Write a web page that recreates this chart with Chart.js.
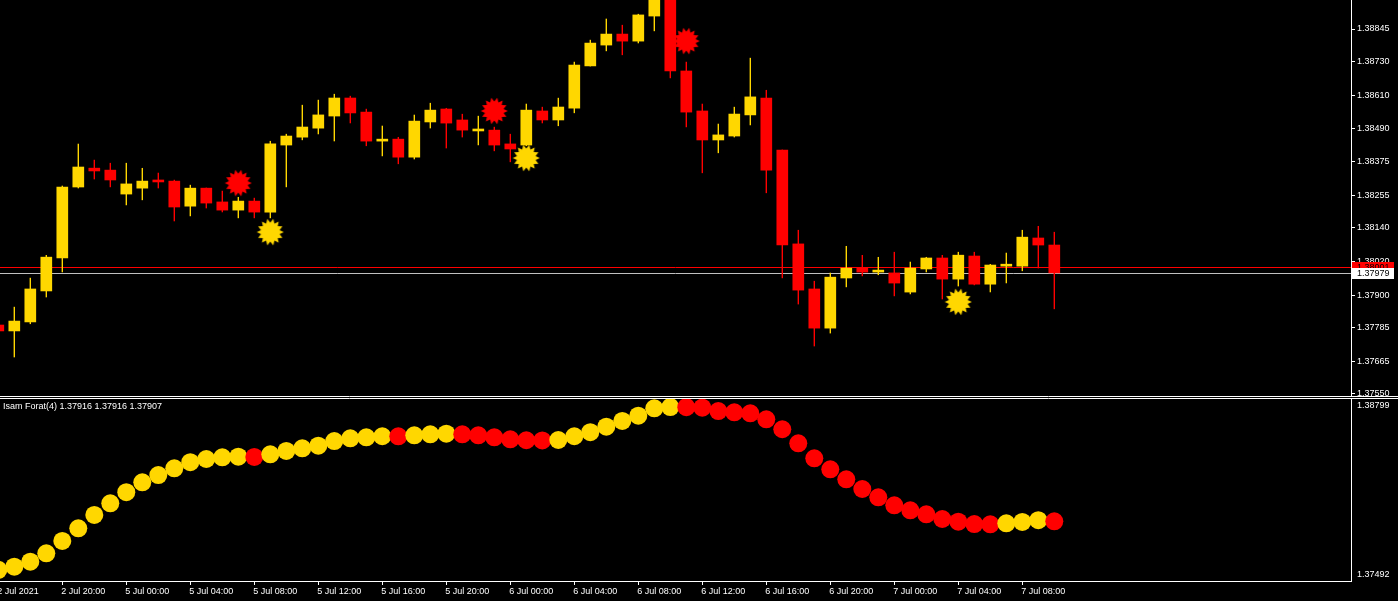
<!DOCTYPE html>
<html>
<head>
<meta charset="utf-8">
<script src="https://cdn.jsdelivr.net/npm/chart.js@4.4.1/dist/chart.umd.min.js"></script>
<style>
  html, body { margin: 0; padding: 0; background: #000; overflow: hidden; }
  #top { position: absolute; left: 0; top: 0; width: 1398px; height: 396px; }
  #bottom { position: absolute; left: 0; top: 396px; width: 1398px; height: 205px; }
</style>
</head>
<body>
<div id="top"><canvas id="price"></canvas></div>
<div id="bottom"><canvas id="ind"></canvas></div>
<script>
// H1 candles, 2 Jul 16:00 -> 7 Jul 10:00
const opens = [1.37794,1.37773,1.37805,1.37915,1.38032,1.38284,1.38351,1.38344,1.38259,1.38280,
  1.38309,1.38305,1.38216,1.38280,1.38231,1.38202,1.38234,1.38195,1.38433,1.38461,
  1.38493,1.38536,1.38600,1.38550,1.38447,1.38454,1.38390,1.38515,1.38561,1.38522,
  1.38483,1.38486,1.38437,1.38433,1.38554,1.38522,1.38564,1.38714,1.38788,1.38827,
  1.38802,1.38891,1.38959,1.38696,1.38554,1.38451,1.38465,1.38540,1.38600,1.38415,
  1.38082,1.37922,1.37783,1.37961,1.37996,1.37982,1.37979,1.37911,1.37993,1.38032,
  1.37957,1.38039,1.37939,1.38003,1.38003,1.38103,1.38078];
const highs = [1.37805,1.37858,1.37961,1.38042,1.38288,1.38437,1.38380,1.38369,1.38369,1.38351,
  1.38334,1.38309,1.38291,1.38281,1.38270,1.38248,1.38245,1.38447,1.38472,1.38575,
  1.38593,1.38614,1.38607,1.38561,1.38501,1.38461,1.38540,1.38582,1.38564,1.38543,
  1.38536,1.38497,1.38472,1.38579,1.38568,1.38600,1.38728,1.38806,1.38881,1.38859,
  1.38898,1.38984,1.38976,1.38728,1.38579,1.38508,1.38568,1.38742,1.38628,1.38416,
  1.38131,1.37950,1.37979,1.38074,1.38042,1.38035,1.38053,1.38018,1.38035,1.38042,
  1.38053,1.38053,1.38010,1.38050,1.38131,1.38145,1.38124];
const lows = [1.37762,1.37680,1.37798,1.37893,1.37982,1.38280,1.38312,1.38284,1.38220,1.38238,
  1.38280,1.38163,1.38181,1.38209,1.38195,1.38174,1.38174,1.38174,1.38284,1.38451,
  1.38472,1.38447,1.38511,1.38430,1.38394,1.38366,1.38383,1.38493,1.38422,1.38461,
  1.38433,1.38412,1.38373,1.38430,1.38511,1.38501,1.38547,1.38713,1.38767,1.38753,
  1.38795,1.38838,1.38671,1.38497,1.38334,1.38405,1.38461,1.38504,1.38263,1.37961,
  1.37868,1.37719,1.37765,1.37929,1.37968,1.37972,1.37897,1.37904,1.37982,1.37886,
  1.37932,1.37936,1.37911,1.37943,1.37986,1.37996,1.37851];
const closes = [1.37773,1.37808,1.37922,1.38035,1.38284,1.38355,1.38341,1.38309,1.38295,1.38305,
  1.38302,1.38213,1.38280,1.38227,1.38202,1.38234,1.38195,1.38437,1.38465,1.38497,
  1.38540,1.38600,1.38547,1.38447,1.38454,1.38390,1.38518,1.38557,1.38511,1.38486,
  1.38490,1.38433,1.38419,1.38557,1.38522,1.38568,1.38717,1.38795,1.38827,1.38802,
  1.38895,1.38962,1.38696,1.38550,1.38451,1.38469,1.38543,1.38604,1.38344,1.38078,
  1.37918,1.37783,1.37964,1.37996,1.37982,1.37989,1.37943,1.37996,1.38032,1.37957,
  1.38042,1.37939,1.38007,1.38010,1.38106,1.38078,1.37979];

// signal arrows (bar index, price)
const sellIdx = [15, 31, 43];
const sellPrice = [1.38298, 1.38554, 1.38802];
const buyIdx = [17, 33, 60];
const buyPrice = [1.38124, 1.38387, 1.37876];

// Isam Forat(4) line, 1 = up (yellow), 0 = down (red)
const indValues = [1.37531,1.37556,1.37595,1.37660,1.37755,1.37853,1.37956,1.38046,1.38132,1.38209,
  1.38265,1.38317,1.38364,1.38389,1.38402,1.38407,1.38405,1.38425,1.38451,1.38472,
  1.38492,1.38528,1.38549,1.38557,1.38565,1.38564,1.38572,1.38580,1.38585,1.38580,
  1.38572,1.38557,1.38541,1.38534,1.38533,1.38536,1.38565,1.38596,1.38639,1.38683,
  1.38724,1.38781,1.38791,1.38790,1.38786,1.38760,1.38750,1.38742,1.38696,1.38619,
  1.38510,1.38394,1.38309,1.38232,1.38157,1.38093,1.38031,1.37992,1.37961,1.37925,
  1.37904,1.37886,1.37884,1.37892,1.37902,1.37916,1.37907];
const indTrend = [1,1,1,1,1,1,1,1,1,1, 1,1,1,1,1,1,0,1,1,1, 1,1,1,1,1,0,1,1,1,0,
  0,0,0,0,0,1,1,1,1,1, 1,1,1,0,0,0,0,0,0,0, 0,0,0,0,0,0,0,0,0,0, 0,0,0,1,1,1,0];
const indLegend = [1.37916, 1.37916, 1.37907];

const priceTicks = [1.38845,1.38730,1.38610,1.38490,1.38375,1.38255,1.38140,1.38020,1.37900,1.37785,1.37665,1.37550];
const indTicks = [1.38799, 1.37492];
const timeTickIdx = [0,4,8,12,16,20,24,28,32,36,40,44,48,52,56,60,64];
const timeLabels = ['2 Jul 2021','2 Jul 20:00','5 Jul 00:00','5 Jul 04:00','5 Jul 08:00','5 Jul 12:00',
  '5 Jul 16:00','5 Jul 20:00','6 Jul 00:00','6 Jul 04:00','6 Jul 08:00','6 Jul 12:00','6 Jul 16:00',
  '6 Jul 20:00','7 Jul 00:00','7 Jul 04:00','7 Jul 08:00'];
const askPrice = 1.38001;
const bidPrice = 1.37979;

const UP = '#FFD700', DOWN = '#FF0000';
Chart.defaults.font.family = 'Liberation Sans';
Chart.defaults.font.size = 9;
Chart.defaults.color = '#fff';

const candleColors = opens.map((o, i) => closes[i] >= o ? UP : DOWN);

function starburst(color) {
  const c = document.createElement('canvas');
  c.width = c.height = 28;
  const g = c.getContext('2d');
  g.fillStyle = color;
  g.beginPath();
  const n = 14;
  for (let i = 0; i < n * 2; i++) {
    const r = i % 2 ? 9.5 : 13.5;
    const a = Math.PI * i / n;
    g.lineTo(14 + r * Math.cos(a), 14 + r * Math.sin(a));
  }
  g.closePath();
  g.fill();
  return c;
}

const xRange = { min: 0.106, max: 0.106 + 1351 / 16 };

const priceLines = {
  id: 'priceLines',
  beforeDatasetsDraw(chart) {
    const { ctx, chartArea, scales } = chart;
    ctx.save();
    ctx.lineWidth = 1;
    [[askPrice, '#FF0000'], [bidPrice, '#C0C0C0']].forEach(([v, c]) => {
      const y = Math.round(scales.y.getPixelForValue(v)) + 0.5;
      ctx.strokeStyle = c;
      ctx.beginPath();
      ctx.moveTo(chartArea.left, y);
      ctx.lineTo(chartArea.right, y);
      ctx.stroke();
    });
    ctx.restore();
  },
  afterDraw(chart) {
    const { ctx, scales } = chart;
    ctx.save();
    ctx.font = '9px "Liberation Sans"';
    ctx.textBaseline = 'middle';
    [[askPrice, '#FF0000', '#000'], [bidPrice, '#FFFFFF', '#000']].forEach(([v, bg, fg]) => {
      const y = Math.round(scales.y.getPixelForValue(v));
      ctx.fillStyle = bg;
      ctx.fillRect(1352, y - 5, 42, 11);
      ctx.fillStyle = fg;
      ctx.fillText(v.toFixed(5), 1357, y + 0.5);
    });
    ctx.restore();
  }
};

new Chart(document.getElementById('price'), {
  type: 'bar',
  data: {
    datasets: [{
      label: 'signals down',
      type: 'scatter',
      data: sellIdx.map((k, i) => ({ x: k, y: sellPrice[i] })),
      pointStyle: starburst(DOWN),
      pointRadius: 13
    }, {
      label: 'signals up',
      type: 'scatter',
      data: buyIdx.map((k, i) => ({ x: k, y: buyPrice[i] })),
      pointStyle: starburst(UP),
      pointRadius: 13
    }, {
      label: 'body',
      data: opens.map((o, i) => ({ x: i, y: [o, closes[i]] })),
      backgroundColor: candleColors,
      barThickness: 11,
      minBarLength: 1,
      grouped: false
    }, {
      label: 'wick',
      data: lows.map((l, i) => ({ x: i, y: [l, highs[i]] })),
      backgroundColor: candleColors,
      barThickness: 1,
      inflateAmount: 0.2,
      grouped: false
    }]
  },
  options: {
    animation: false,
    responsive: true,
    maintainAspectRatio: false,
    layout: { autoPadding: false, padding: 0 },
    plugins: { legend: { display: false }, tooltip: { enabled: false } },
    scales: {
      x: { type: 'linear', display: false, offset: false, min: xRange.min, max: xRange.max, grid: { offset: false } },
      y: {
        position: 'right',
        min: 1.37542, max: 1.38948,
        afterBuildTicks: s => { s.ticks = priceTicks.map(v => ({ value: v })); },
        afterFit: s => { s.width = 47; s.paddingTop = 0; s.paddingBottom = 0; },
        ticks: { autoSkip: false, padding: 2, callback: v => v.toFixed(5) },
        grid: { drawOnChartArea: false, drawTicks: true, tickLength: 4, color: '#fff' },
        border: { color: '#fff' }
      }
    }
  },
  plugins: [priceLines]
});

const indDecor = {
  id: 'indDecor',
  afterDraw(chart) {
    const { ctx } = chart;
    ctx.save();
    ctx.strokeStyle = '#fff';
    ctx.lineWidth = 1;
    ctx.beginPath();
    ctx.moveTo(0, 0.5); ctx.lineTo(1398, 0.5);
    ctx.moveTo(0, 2.5); ctx.lineTo(1398, 2.5);
    ctx.stroke();
    ctx.font = '9px "Liberation Sans"';
    ctx.fillStyle = '#fff';
    ctx.textBaseline = 'middle';
    ctx.fillText('Isam Forat(4) ' + indLegend.map(v => v.toFixed(5)).join(' '), 3, 11);
    ctx.restore();
  }
};

new Chart(document.getElementById('ind'), {
  type: 'scatter',
  data: {
    datasets: [{
      label: 'Isam Forat(4)',
      data: indValues.map((v, i) => ({ x: i, y: v })),
      pointBackgroundColor: indTrend.map(t => t ? UP : DOWN),
      pointBorderWidth: 0,
      pointRadius: 9
    }]
  },
  options: {
    animation: false,
    responsive: true,
    maintainAspectRatio: false,
    layout: { autoPadding: false, padding: { top: 3, left: 0, right: 0, bottom: 0 } },
    plugins: { legend: { display: false }, tooltip: { enabled: false } },
    scales: {
      x: {
        type: 'linear', offset: false, min: xRange.min, max: xRange.max,
        afterBuildTicks: s => { s.ticks = timeTickIdx.map(v => ({ value: v })); },
        afterFit: s => { s.height = 20; s.paddingLeft = 0; s.paddingRight = 0; },
        ticks: { autoSkip: false, maxRotation: 0, align: 'start', padding: 1, labelOffset: -1,
          callback: (v, i) => timeLabels[i] },
        grid: { drawOnChartArea: false, drawTicks: true, tickLength: 4, color: '#fff' },
        border: { color: '#fff' }
      },
      y: {
        position: 'right',
        min: 1.374455, max: 1.38853,
        afterBuildTicks: s => { s.ticks = indTicks.map(v => ({ value: v })); },
        afterFit: s => { s.width = 47; s.paddingTop = 0; s.paddingBottom = 0; },
        ticks: { autoSkip: false, padding: 6, callback: v => v.toFixed(5) },
        grid: { display: false, drawTicks: false },
        border: { color: '#fff' }
      }
    }
  },
  plugins: [indDecor]
});
</script>
</body>
</html>
